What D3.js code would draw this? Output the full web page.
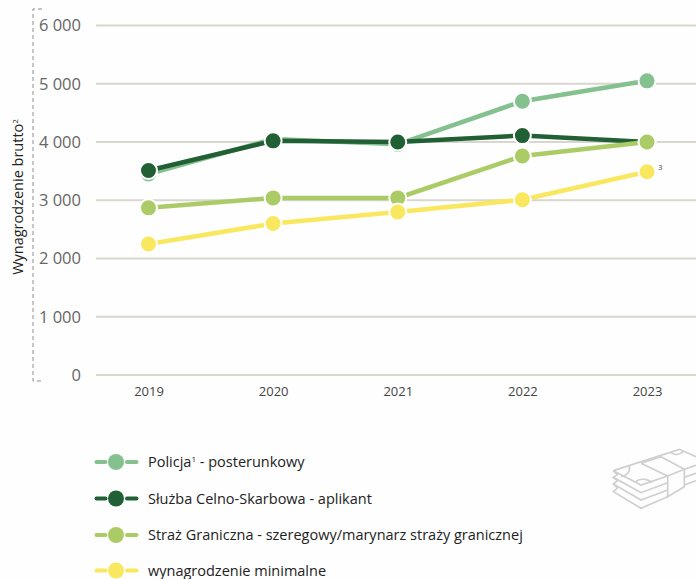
<!DOCTYPE html>
<html>
<head>
<meta charset="utf-8">
<script src="https://cdn.jsdelivr.net/npm/d3@7"></script>
<style>
  html, body { margin: 0; padding: 0; background: #fefefe; }
  svg { display: block; font-family: "Open Sans", "Noto Sans", sans-serif; }
</style>
</head>
<body>
<div id="chart"></div>
<script>
const years = ["2019", "2020", "2021", "2022", "2023"];
const yTicks = [0, 1000, 2000, 3000, 4000, 5000, 6000];

const policja = [3450, 4050, 3960, 4700, 5050];
const sluzbaCelna = [3510, 4020, 4000, 4110, 4000];
const strazGraniczna = [2870, 3040, 3040, 3760, 4000];
const minimalne = [2250, 2600, 2800, 3010, 3490];

const seriesNames = [
  ["Policja", "1", " - posterunkowy"],
  ["Służba Celno-Skarbowa - aplikant"],
  ["Straż Graniczna - szeregowy/marynarz straży granicznej"],
  ["wynagrodzenie minimalne"],
];
const seriesValues = [policja, sluzbaCelna, strazGraniczna, minimalne];
const colors = ["#85c08f", "#215f35", "#abcb67", "#f9e85f"];

const width = 696, height = 579;

const svg = d3.select("#chart").append("svg")
  .attr("width", width)
  .attr("height", height)
  .attr("viewBox", `0 0 ${width} ${height}`);

const x = d3.scalePoint().domain(years).range([148.5, 647]);
const y = d3.scaleLinear().domain([0, 6000]).range([375, 25.5]);

// Grid
svg.append("g").selectAll("line")
  .data(yTicks)
  .enter()
  .append("line")
  .attr("x1", 96)
  .attr("x2", width)
  .attr("y1", d => y(d))
  .attr("y2", d => y(d))
  .attr("stroke", "#d9d6d0")
  .attr("stroke-width", 2);

// Axes
const yAxis = svg.append("g")
  .attr("transform", "translate(81,0)")
  .call(d3.axisLeft(y).tickValues(yTicks).tickSize(0).tickPadding(0)
    .tickFormat(d => d3.format(",")(d).replace(",", " ")));
yAxis.select(".domain").remove();
yAxis.selectAll("text")
  .attr("font-family", "'Open Sans', sans-serif")
  .attr("font-size", 16.5)
  .attr("fill", "#666");

const xAxis = svg.append("g")
  .attr("transform", "translate(0,387)")
  .call(d3.axisBottom(x).tickSize(0).tickPadding(0));
xAxis.select(".domain").remove();
xAxis.selectAll("text")
  .attr("font-family", "'Open Sans', sans-serif")
  .attr("font-size", 13)
  .attr("fill", "#444");

// Dashed bracket next to the y axis
svg.append("path")
  .attr("d", "M42,9H33V381H42")
  .attr("fill", "none")
  .attr("stroke", "#8f8f8f")
  .attr("stroke-width", 1)
  .attr("stroke-dasharray", "4,3");

// Y axis title
const yTitle = svg.append("text")
  .attr("transform", "translate(23,197) rotate(-90)")
  .attr("text-anchor", "middle")
  .attr("font-size", 14.5)
  .attr("fill", "#222")
  .text("Wynagrodzenie brutto");
yTitle.append("tspan").attr("font-size", 8).attr("dy", -5).text("2");

// Lines and dots
const line = d3.line()
  .x((d, i) => x(years[i]))
  .y(d => y(d));

seriesValues.forEach((values, s) => {
  const g = svg.append("g");
  g.append("path")
    .attr("d", line(values))
    .attr("fill", "none")
    .attr("stroke", colors[s])
    .attr("stroke-width", 4.5);
  g.selectAll("circle")
    .data(values)
    .enter()
    .append("circle")
    .attr("cx", (d, i) => x(years[i]))
    .attr("cy", d => y(d))
    .attr("r", 8.5)
    .attr("fill", colors[s])
    .attr("stroke", "#fefefe")
    .attr("stroke-width", 2);
});

// Footnote mark on the last minimum wage point
svg.append("text")
  .attr("x", 658)
  .attr("y", 170)
  .attr("font-size", 8)
  .attr("fill", "#555")
  .text("3");

// Legend
const legendY = [462, 498.5, 535, 570.5];
const legend = svg.selectAll(".legendItem")
  .data(seriesNames)
  .enter()
  .append("g")
  .attr("class", "legendItem")
  .attr("transform", (d, i) => `translate(0,${legendY[i]})`);

[[96.5, 105.5], [127, 136.5]].forEach(seg => {
  legend.append("line")
    .attr("x1", seg[0])
    .attr("x2", seg[1])
    .attr("stroke", (d, i) => colors[i])
    .attr("stroke-width", 4)
    .attr("stroke-linecap", "round");
});
legend.append("circle")
  .attr("cx", 116)
  .attr("r", 8)
  .attr("fill", (d, i) => colors[i]);

const legendText = legend.append("text")
  .attr("x", 148)
  .attr("y", 5)
  .attr("font-size", 14.5)
  .attr("fill", "#222");
legendText.each(function (parts) {
  const t = d3.select(this);
  parts.forEach((p, i) => {
    const sup = parts.length > 1 && i === 1;
    t.append("tspan")
      .attr("font-size", sup ? 8 : 14.5)
      .attr("dy", sup ? -5 : (i === 2 ? 5 : 0))
      .text(p);
  });
});

// Banknote icon
const icon = svg.append("g")
  .attr("transform", "translate(596,440) scale(0.3333)")
  .attr("fill", "none")
  .attr("stroke", "#cfcfcf")
  .attr("stroke-width", 5);
const iconPaths = [
  "M52,92L250,28L300,50",
  "M52,92L135,135L215,108",
  "M52,92L64,104L52,112L135,158L215,128",
  "M52,112L64,122L52,132L135,180L215,150",
  "M52,132L64,144L52,155L135,205L215,170",
  "M135,70L195,50L265,88V140L215,170V108L135,70",
  "M215,108L265,88L300,76",
  "M265,112L300,100",
  "M265,135L300,122",
  "M100,78C104,95 92,108 75,110",
  "M120,125C130,115 155,115 168,128",
  "M225,38C235,46 250,46 262,34",
];
icon.selectAll("path")
  .data(iconPaths)
  .enter()
  .append("path")
  .attr("d", d => d);
</script>
</body>
</html>
